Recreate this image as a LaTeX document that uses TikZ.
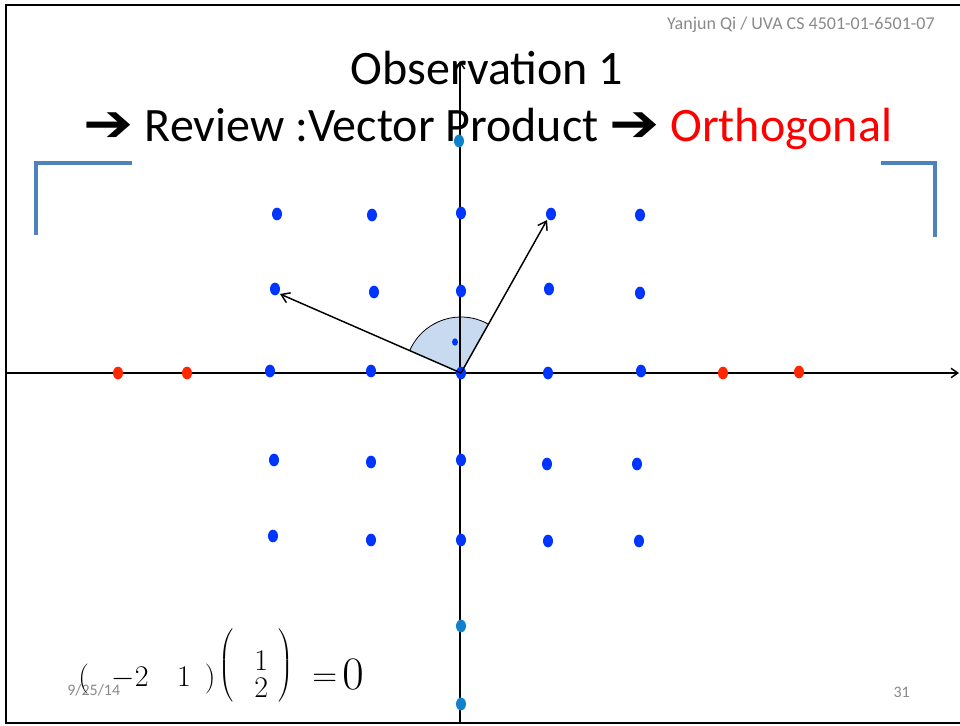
\documentclass[tikz,border=0pt]{standalone}
\usepackage{fontspec}
\usepackage{graphicx}
\setmainfont{Carlito}
\newfontfamily\symfont{DejaVu Sans Bold}
\usetikzlibrary{arrows.meta,shapes.geometric}
\definecolor{dotblue}{RGB}{0,52,255}
\definecolor{axisblue}{RGB}{16,130,205}
\definecolor{dotred}{RGB}{255,40,0}
\definecolor{bracketblue}{RGB}{79,129,189}
\definecolor{wedgefill}{RGB}{200,218,240}
\definecolor{footgray}{RGB}{137,137,137}
\newcommand{\bigarrow}{{\symfont\fontsize{34}{40}\selectfont\scalebox{1.32}[1.15]{➔}}}
\newcommand{\colparen}[1]{\raisebox{7.5pt}{$#1$}}
\begin{document}
\begin{tikzpicture}[x=0.75pt,y=-0.75pt,
  bdot/.style={shape=ellipse,fill=dotblue,draw=none,inner sep=0pt,minimum width=7.5pt,minimum height=9.5pt},
  rdot/.style={bdot,fill=dotred},
  adot/.style={bdot,fill=axisblue},
  sdot/.style={bdot,minimum width=4.5pt,minimum height=5.5pt},
  axis/.style={line width=1.1pt,-{Straight Barb[length=5pt,width=7pt]}},
  vec/.style={line width=1.1pt,-{Straight Barb[length=6pt,width=8pt]}},
  bracket/.style={draw=bracketblue,line width=2.3pt},
  frame/.style={line width=1.5pt},
  foot/.style={text=footgray,font=\fontsize{12}{14}\selectfont,inner sep=0pt},
  title/.style={font=\fontsize{36}{42}\selectfont,inner sep=0pt}]
\useasboundingbox (0,0) rectangle (960,725);
% frame
\draw[frame] (960,5) -- (6,5) -- (6,723) -- (960,723);
% header / footers
\node[foot,font=\fontsize{13.5}{16}\selectfont,anchor=base east] (hdr) at (935,29) {Yanjun Qi / UVA CS 4501-01-6501-07};
\node[foot,anchor=base west] (date) at (67,695) {9/25/14};
\node[foot,anchor=base east] (pnum) at (910,697) {31};
% brackets
\draw[bracket] (36,235) -- (36,163) -- (132,163);
\draw[bracket] (881,163) -- (935,163) -- (935,237);
% wedge
\coordinate (O) at (461,373);
\fill[wedgefill] (O) -- ([shift={(156:42pt)}]O) arc[start angle=156,end angle=60.5,radius=42pt] -- cycle;
\draw[line width=0.6pt] ([shift={(156:42pt)}]O) arc[start angle=156,end angle=60.5,radius=42pt];
% axes
\coordinate (xl) at (7,373);
\coordinate (xr) at (959,373);
\coordinate (yb) at (460,723);
\coordinate (yt) at (460,61);
\draw[axis] (xl) -- (xr);
\draw[axis] (yb) -- (yt);
% titles
\node[title,anchor=base] (t1) at (487,84) {Observation 1};
\node[title,anchor=base] (t2) at (488,141) {\bigarrow{} Review :Vector Product \bigarrow{} \textcolor{red}{Orthogonal}};
% dots
\foreach \x/\y [count=\i] in {277/214,372/215,461/213,551/214,640/215,
  275/289,374/292,461/291,549/289,640/293,
  270/371,371/371,461/373,548/373,641/371,
  274/460,371/462,461/460,547/464,637/464,
  273/536,371/540,461/540,548/541,639/541}
  \node[bdot] (b\i) at (\x,\y) {};
\foreach \x/\y [count=\i] in {118/373,187/373,723/373,799/372}
  \node[rdot] (r\i) at (\x,\y) {};
\foreach \x/\y [count=\i] in {459/141,461/626,461/704}
  \node[adot] (a\i) at (\x,\y) {};
\node[sdot] (s1) at (455,342) {};
% vectors
\coordinate (A) at (547,220);
\coordinate (B) at (280,294);
\draw[vec] (O) -- (A);
\draw[vec] (O) -- (B);
% formula
\node[anchor=base west,inner sep=0pt,font=\fontsize{17.28}{15.5}\selectfont] (eq) at (78,686)
  {\scalebox{1.302}{$\bigl(\hspace{13pt}{-2}\hspace{16.5pt}1\hspace{8pt}\bigr)\hspace{1.5pt}\colparen{\left(\vcenter{\hbox{\rule{0pt}{40pt}}}\right.}\begin{array}{@{\hspace{11pt}}c@{\hspace{4.5pt}}}1\\2\end{array}\colparen{\left.\vcenter{\hbox{\rule{0pt}{40pt}}}\right)}\hspace{11pt}\scalebox{1.15}{$=$}\hspace{3pt}\raisebox{-2pt}{\scalebox{1.55}{$0$}}$}};
\end{tikzpicture}
\end{document}
